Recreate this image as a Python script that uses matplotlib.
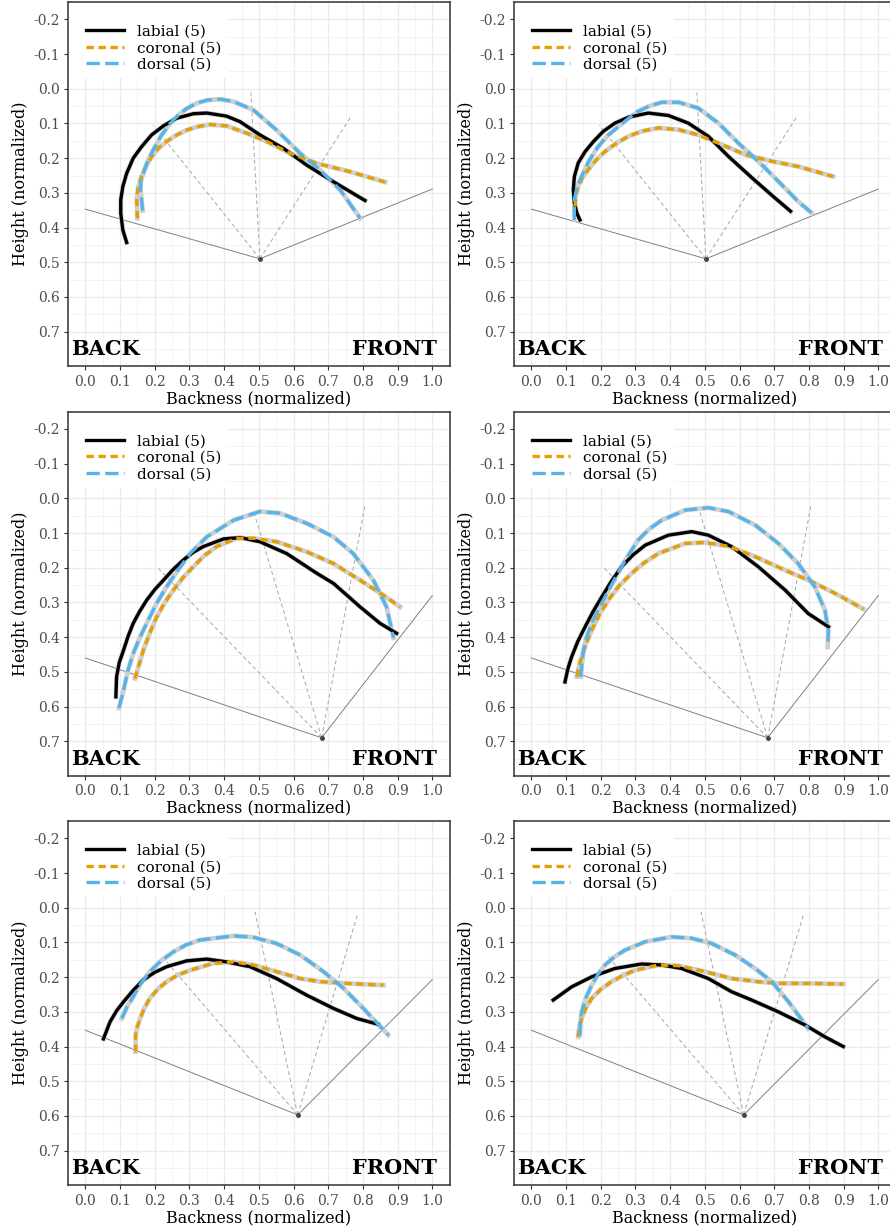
import numpy as np
import matplotlib.pyplot as plt
from matplotlib.lines import Line2D
from matplotlib.patches import Rectangle

plt.rcParams['font.family'] = ['DejaVu Serif']

# ---- tongue contours (x = backness, y = height) ----
# panel 1 (top left)
p1_lab_x = [0.119, 0.108, 0.102, 0.102, 0.108, 0.119, 0.138, 0.162, 0.191, 0.225, 0.263, 0.311, 0.350, 0.407, 0.446, 0.503, 0.571, 0.638, 0.715, 0.806]
p1_lab_y = [0.443, 0.407, 0.359, 0.320, 0.282, 0.244, 0.200, 0.167, 0.133, 0.107, 0.085, 0.072, 0.070, 0.079, 0.095, 0.133, 0.172, 0.220, 0.268, 0.322]
p1_cor_x = [0.150, 0.148, 0.152, 0.162, 0.175, 0.191, 0.210, 0.234, 0.262, 0.292, 0.325, 0.359, 0.407, 0.465, 0.523, 0.590, 0.667, 0.763, 0.864]
p1_cor_y = [0.373, 0.320, 0.285, 0.253, 0.222, 0.196, 0.172, 0.152, 0.134, 0.119, 0.109, 0.103, 0.107, 0.128, 0.152, 0.186, 0.215, 0.239, 0.269]
p1_dor_x = [0.165, 0.159, 0.160, 0.167, 0.180, 0.196, 0.218, 0.244, 0.268, 0.292, 0.320, 0.350, 0.388, 0.427, 0.484, 0.551, 0.619, 0.676, 0.734, 0.792]
p1_dor_y = [0.351, 0.291, 0.265, 0.244, 0.208, 0.176, 0.136, 0.100, 0.076, 0.057, 0.042, 0.033, 0.030, 0.037, 0.061, 0.119, 0.186, 0.234, 0.291, 0.373]

# panel 2 (top right)
p2_lab_x = [0.140, 0.131, 0.124, 0.121, 0.124, 0.135, 0.155, 0.179, 0.207, 0.241, 0.280, 0.337, 0.395, 0.452, 0.510, 0.568, 0.635, 0.700, 0.747]
p2_lab_y = [0.378, 0.358, 0.329, 0.291, 0.253, 0.214, 0.181, 0.152, 0.123, 0.099, 0.082, 0.070, 0.077, 0.099, 0.137, 0.195, 0.256, 0.313, 0.353]
p2_cor_x = [0.126, 0.128, 0.135, 0.148, 0.164, 0.186, 0.212, 0.245, 0.280, 0.320, 0.366, 0.424, 0.481, 0.549, 0.616, 0.693, 0.769, 0.870]
p2_cor_y = [0.339, 0.308, 0.281, 0.255, 0.233, 0.206, 0.181, 0.157, 0.137, 0.122, 0.113, 0.118, 0.133, 0.161, 0.190, 0.209, 0.224, 0.253]
p2_dor_x = [0.124, 0.124, 0.131, 0.145, 0.166, 0.193, 0.220, 0.251, 0.280, 0.308, 0.340, 0.376, 0.424, 0.481, 0.539, 0.597, 0.654, 0.712, 0.769, 0.808]
p2_dor_y = [0.378, 0.320, 0.285, 0.253, 0.208, 0.166, 0.135, 0.109, 0.085, 0.065, 0.050, 0.039, 0.039, 0.056, 0.099, 0.157, 0.209, 0.267, 0.325, 0.358]

# panel 3 (middle left)
p3_lab_x = [0.088, 0.090, 0.098, 0.110, 0.123, 0.138, 0.157, 0.177, 0.200, 0.225, 0.252, 0.282, 0.310, 0.340, 0.398, 0.446, 0.503, 0.580, 0.667, 0.715, 0.792, 0.849, 0.897]
p3_lab_y = [0.572, 0.514, 0.472, 0.438, 0.398, 0.360, 0.325, 0.293, 0.263, 0.236, 0.206, 0.178, 0.156, 0.139, 0.117, 0.113, 0.125, 0.159, 0.216, 0.245, 0.313, 0.360, 0.389]
p3_cor_x = [0.143, 0.167, 0.186, 0.206, 0.229, 0.254, 0.281, 0.311, 0.343, 0.378, 0.436, 0.484, 0.551, 0.638, 0.715, 0.792, 0.859, 0.907]
p3_cor_y = [0.519, 0.438, 0.387, 0.341, 0.300, 0.264, 0.229, 0.197, 0.165, 0.139, 0.115, 0.115, 0.125, 0.154, 0.188, 0.236, 0.279, 0.313]
p3_dor_x = [0.097, 0.110, 0.123, 0.138, 0.157, 0.177, 0.204, 0.234, 0.268, 0.302, 0.350, 0.427, 0.503, 0.561, 0.638, 0.715, 0.772, 0.830, 0.868, 0.888]
p3_dor_y = [0.604, 0.553, 0.495, 0.447, 0.401, 0.360, 0.305, 0.255, 0.205, 0.159, 0.111, 0.063, 0.038, 0.043, 0.072, 0.111, 0.159, 0.236, 0.313, 0.402]

# panel 4 (middle right)
p4_lab_x = [0.097, 0.105, 0.116, 0.134, 0.155, 0.178, 0.203, 0.230, 0.260, 0.293, 0.328, 0.395, 0.462, 0.510, 0.577, 0.654, 0.731, 0.798, 0.856]
p4_lab_y = [0.529, 0.492, 0.457, 0.412, 0.370, 0.326, 0.284, 0.240, 0.197, 0.163, 0.135, 0.106, 0.096, 0.106, 0.139, 0.197, 0.264, 0.332, 0.370]
p4_cor_x = [0.131, 0.137, 0.145, 0.158, 0.174, 0.196, 0.222, 0.253, 0.289, 0.326, 0.366, 0.443, 0.500, 0.568, 0.645, 0.731, 0.808, 0.885, 0.957]
p4_cor_y = [0.514, 0.485, 0.457, 0.418, 0.380, 0.335, 0.293, 0.252, 0.216, 0.185, 0.159, 0.130, 0.127, 0.138, 0.168, 0.207, 0.240, 0.279, 0.319]
p4_dor_x = [0.142, 0.150, 0.160, 0.174, 0.192, 0.212, 0.236, 0.260, 0.284, 0.308, 0.340, 0.376, 0.443, 0.510, 0.568, 0.645, 0.712, 0.769, 0.817, 0.846, 0.856, 0.854]
p4_dor_y = [0.514, 0.438, 0.398, 0.360, 0.322, 0.284, 0.240, 0.197, 0.157, 0.120, 0.088, 0.063, 0.034, 0.027, 0.038, 0.077, 0.130, 0.188, 0.255, 0.322, 0.380, 0.428]

# panel 5 (bottom left)
p5_lab_x = [0.052, 0.071, 0.090, 0.110, 0.138, 0.167, 0.200, 0.234, 0.292, 0.350, 0.407, 0.475, 0.551, 0.638, 0.715, 0.782, 0.844]
p5_lab_y = [0.378, 0.329, 0.297, 0.271, 0.238, 0.208, 0.186, 0.170, 0.153, 0.148, 0.156, 0.170, 0.204, 0.252, 0.290, 0.319, 0.336]
p5_cor_x = [0.145, 0.145, 0.150, 0.158, 0.170, 0.186, 0.208, 0.234, 0.266, 0.302, 0.369, 0.427, 0.484, 0.551, 0.619, 0.676, 0.753, 0.859]
p5_cor_y = [0.415, 0.367, 0.342, 0.319, 0.289, 0.261, 0.235, 0.213, 0.194, 0.180, 0.160, 0.156, 0.165, 0.184, 0.204, 0.213, 0.218, 0.223]
p5_dor_x = [0.105, 0.120, 0.138, 0.160, 0.186, 0.218, 0.254, 0.290, 0.330, 0.427, 0.484, 0.551, 0.619, 0.686, 0.744, 0.801, 0.873]
p5_dor_y = [0.319, 0.286, 0.256, 0.218, 0.184, 0.153, 0.127, 0.107, 0.093, 0.081, 0.085, 0.103, 0.136, 0.184, 0.232, 0.290, 0.367]

# panel 6 (bottom right)
p6_lab_x = [0.063, 0.116, 0.174, 0.241, 0.318, 0.376, 0.433, 0.510, 0.577, 0.635, 0.712, 0.789, 0.846, 0.899]
p6_lab_y = [0.266, 0.228, 0.199, 0.175, 0.162, 0.165, 0.175, 0.204, 0.242, 0.266, 0.300, 0.338, 0.372, 0.400]
p6_cor_x = [0.135, 0.138, 0.145, 0.157, 0.174, 0.200, 0.231, 0.264, 0.299, 0.366, 0.424, 0.500, 0.577, 0.654, 0.712, 0.808, 0.899]
p6_cor_y = [0.372, 0.345, 0.319, 0.289, 0.261, 0.235, 0.213, 0.195, 0.180, 0.165, 0.167, 0.184, 0.204, 0.213, 0.218, 0.218, 0.220]
p6_dor_x = [0.140, 0.141, 0.145, 0.157, 0.174, 0.192, 0.212, 0.240, 0.270, 0.328, 0.404, 0.462, 0.520, 0.587, 0.645, 0.693, 0.741, 0.798]
p6_dor_y = [0.367, 0.333, 0.300, 0.260, 0.223, 0.192, 0.165, 0.141, 0.122, 0.098, 0.084, 0.088, 0.103, 0.136, 0.175, 0.213, 0.271, 0.348]

# ---- probe geometry per row: origin, solid guide ends, dashed ray ends ----
origin_x = [0.503, 0.681, 0.612]
origin_y = [0.490, 0.690, 0.597]
guide_left_y = [0.347, 0.460, 0.353]
guide_right_y = [0.289, 0.280, 0.207]
ray_x = [[0.196, 0.477, 0.768], [0.206, 0.484, 0.806], [0.222, 0.489, 0.784]]
ray_y = [[0.105, 0.011, 0.076], [0.197, 0.034, 0.019], [0.141, 0.012, 0.021]]

labels = ['labial (5)', 'coronal (5)', 'dorsal (5)']
colors = ['black', '#E69F00', '#56B4E9']
styles = ['-', (0, (2.2, 1.4)), (0, (4.0, 1.6))]

panels = [
    (0, 0, [(p1_lab_x, p1_lab_y), (p1_cor_x, p1_cor_y), (p1_dor_x, p1_dor_y)]),
    (0, 1, [(p2_lab_x, p2_lab_y), (p2_cor_x, p2_cor_y), (p2_dor_x, p2_dor_y)]),
    (1, 0, [(p3_lab_x, p3_lab_y), (p3_cor_x, p3_cor_y), (p3_dor_x, p3_dor_y)]),
    (1, 1, [(p4_lab_x, p4_lab_y), (p4_cor_x, p4_cor_y), (p4_dor_x, p4_dor_y)]),
    (2, 0, [(p5_lab_x, p5_lab_y), (p5_cor_x, p5_cor_y), (p5_dor_x, p5_dor_y)]),
    (2, 1, [(p6_lab_x, p6_lab_y), (p6_cor_x, p6_cor_y), (p6_dor_x, p6_dor_y)]),
]

W, H = 890, 1230
fig = plt.figure(figsize=(W / 100, H / 100), dpi=100)

px = 347.0                     # pixels per data unit
ax_w = 1.1 * px
ax_h = 1.05 * px
lefts = [68.0, 514.0]
tops = [2.0, 411.6, 821.0]

for row, col, curves in panels:
    l, t = lefts[col], tops[row]
    ax = fig.add_axes([l / W, 1 - (t + ax_h) / H, ax_w / W, ax_h / H])
    ax.set_xlim(-0.05, 1.05)
    ax.set_ylim(0.8, -0.25)

    ax.set_xticks(np.arange(0, 1.01, 0.1))
    ax.set_xticklabels(['%.1f' % v for v in np.arange(0, 1.01, 0.1)])
    ax.set_yticks(np.arange(-0.2, 0.71, 0.1))
    ax.set_yticklabels(['%.1f' % (round(v, 1) + 0.0) for v in np.arange(-0.2, 0.71, 0.1)])
    ax.set_xticks(np.arange(-0.05, 1.06, 0.1), minor=True)
    ax.set_yticks(np.arange(-0.25, 0.81, 0.1), minor=True)
    ax.grid(which='major', color='#ebebeb', lw=1.0)
    ax.grid(which='minor', color='#f3f3f3', lw=0.7)
    ax.set_axisbelow(True)
    ax.tick_params(which='major', length=3, width=0.8, color='#333333',
                   labelsize=10, labelcolor='#4d4d4d', pad=3)
    ax.tick_params(which='minor', length=0)
    for s in ax.spines.values():
        s.set_color('#333333')
        s.set_linewidth(1.1)

    ax.set_xlabel('Backness (normalized)', fontsize=11.5, labelpad=1)
    ax.set_ylabel('Height (normalized)', fontsize=11.5, labelpad=3)

    # white legend box over the grid
    ax.add_patch(Rectangle((0, 0.791), 0.419, 0.209, transform=ax.transAxes,
                           facecolor='white', edgecolor='none', zorder=0.8))

    # probe guides
    ox, oy = origin_x[row], origin_y[row]
    ax.plot([0.0, ox, 1.0], [guide_left_y[row], oy, guide_right_y[row]],
            color='#808080', lw=0.7, zorder=1)
    for rx, ry in zip(ray_x[row], ray_y[row]):
        ax.plot([ox, rx], [oy, ry], color='#a6a6a6', lw=0.7, ls=(0, (4, 3)), zorder=1)
    ax.plot([ox], [oy], 'o', color='#444444', ms=2.5, zorder=2)

    # contours with grey underlay
    for cx, cy in curves:
        ax.plot(cx, cy, color='#cfcfcf', lw=3.4, solid_joinstyle='round', zorder=3)
    for (cx, cy), c, ls in zip(curves, colors, styles):
        ax.plot(cx, cy, color=c, lw=2.4, ls=ls, solid_joinstyle='round',
                dash_capstyle='butt', zorder=4)

    ax.text(-0.04, 0.75, 'BACK', fontsize=15, fontweight='bold', ha='left', va='center', zorder=5)
    ax.text(1.013, 0.75, 'FRONT', fontsize=15, fontweight='bold', ha='right', va='center', zorder=5)

    handles = [Line2D([], [], color=c, lw=2.4, ls=ls) for c, ls in zip(colors, styles)]
    leg = ax.legend(handles, labels, loc='upper left', bbox_to_anchor=(0.047, 0.938),
                    fontsize=11, frameon=False, borderaxespad=0, borderpad=0,
                    handlelength=2.5, handletextpad=0.85, labelspacing=0.17)
    leg.set_zorder(6)

fig.savefig('out.png', dpi=100)
